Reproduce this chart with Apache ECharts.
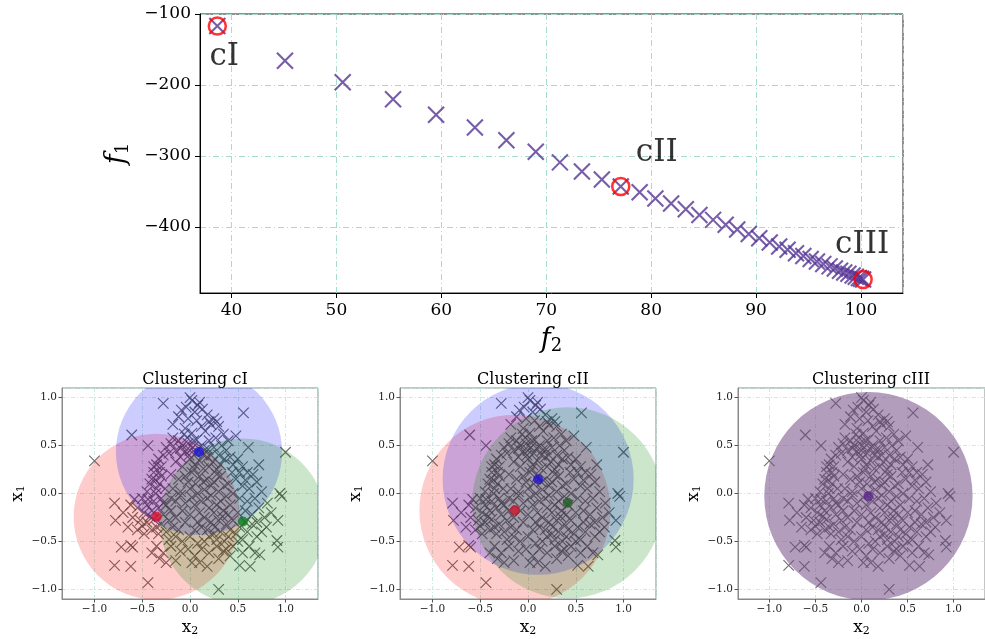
<!DOCTYPE html>
<html>
<head>
<meta charset="utf-8">
<script src="https://cdn.jsdelivr.net/npm/echarts@6/dist/echarts.min.js"></script>
<style>
  html, body { margin: 0; padding: 0; background: #ffffff; }
  #chart { width: 985px; height: 639px; }
</style>
</head>
<body>
<div id="chart"></div>
<script>
// ---- Pareto front (objective space) ----
const frontF2 = [38.65, 45.1, 50.6, 55.4, 59.5, 63.2, 66.2, 69.0, 71.3, 73.4,
                 75.3, 77.1, 78.9, 80.4, 81.9, 83.3, 84.6, 85.9, 87.1, 88.2,
                 89.3, 90.3, 91.3, 92.2, 93.0, 93.8, 94.5, 95.2, 95.8, 96.4,
                 97.0, 97.5, 98.0, 98.4, 98.8, 99.2, 99.5, 99.8, 100.0, 100.2];
const frontF1 = [-117, -166, -196, -220, -242, -260, -278, -294, -309, -322,
                 -333, -343, -351, -360, -367, -375, -383, -390, -397, -403.5,
                 -410, -416, -422, -427.5, -432, -437, -441, -445, -448.5, -452,
                 -455.5, -458.5, -461.5, -464, -466, -468.5, -470, -472, -473, -474];
const pickedIdx = [0, 11, 39];
const pickedNames = ['cI', 'cII', 'cIII'];

// ---- decision-space samples, each [x2, x1] ----
const samples = [
  [-1.00,0.34],[-0.61,0.61],[-0.44,0.50],[-0.28,0.94],[0.00,1.00],[-0.09,0.87],[0.10,0.95],[0.56,0.84],
  [1.00,0.43],[0.61,0.48],[-0.79,-0.10],[-0.78,-0.28],[-0.72,-0.56],[-0.62,-0.54],[-0.60,-0.56],
  [-0.79,-0.75],[-0.62,-0.76],[-0.44,-0.93],[0.30,-1.00],[0.18,-0.76],[0.52,-0.75],[0.63,-0.76],
  [0.73,-0.64],[0.91,-0.49],[0.92,-0.56],[0.94,0.00],[0.96,-0.03],[0.92,-0.28],[0.81,-0.10],
  [0.20,0.75],[0.28,0.75],
  [0.02,0.97],[0.08,0.92],[-0.04,0.90],[0.13,0.88],[0.05,0.85],[-0.12,0.80],[0.18,0.82],[-0.02,0.78],
  [0.07,0.76],[0.22,0.72],[-0.18,0.72],[0.25,0.78],[0.12,0.70],[0.30,0.70],[-0.05,0.68],[0.16,0.65],
  [0.35,0.62],[0.40,0.55],[0.48,0.60],[0.02,0.63],
  [-0.25,0.48],[-0.20,0.52],[-0.12,0.55],[-0.08,0.50],[-0.02,0.52],[0.03,0.48],[-0.15,0.45],[-0.05,0.44],
  [0.06,0.42],[0.12,0.50],[0.15,0.45],[0.20,0.55],[0.25,0.48],[0.30,0.40],[-0.10,0.38],[0.00,0.36],
  [0.10,0.34],[0.18,0.38],[0.24,0.33],[0.32,0.30],[-0.03,0.58],[0.07,0.56],[0.05,0.30],[-0.15,0.33],
  [0.38,0.45],[0.42,0.38],[0.45,0.30],[0.50,0.36],[0.55,0.28],[0.60,0.22],[0.28,0.25],[0.14,0.26],
  [-0.35,0.30],[-0.38,0.22],[-0.40,0.15],[-0.42,0.10],[-0.35,0.05],[-0.45,0.02],[-0.30,0.18],[-0.32,0.10],
  [-0.20,0.20],[-0.12,0.15],[-0.05,0.18],[0.02,0.22],[0.10,0.18],[0.18,0.15],[0.25,0.12],[0.32,0.18],
  [0.40,0.10],[0.48,0.15],[0.55,0.08],[0.62,0.05],[0.70,0.12],[0.75,0.02],[-0.18,0.05],[-0.10,0.02],
  [0.00,0.05],[0.08,0.00],[0.15,0.04],[0.22,-0.02],[0.30,0.02],[0.38,-0.03],[0.45,0.00],[0.52,-0.05],
  [0.60,-0.08],[0.68,-0.05],[-0.15,-0.08],[-0.05,-0.10],[0.05,-0.12],[0.12,-0.08],[0.20,-0.15],[0.28,-0.12],
  [0.35,-0.18],[0.42,-0.12],[0.50,-0.20],[0.58,-0.18],[0.65,-0.22],[0.72,-0.15],[0.78,-0.25],[0.85,-0.20],
  [-0.50,-0.05],[-0.45,-0.12],[-0.38,-0.08],[-0.30,-0.05],[-0.25,-0.12],[-0.55,-0.15],[-0.48,-0.20],
  [-0.40,-0.18],[-0.33,-0.15],[-0.28,-0.22],[-0.20,-0.18],[-0.60,-0.25],[-0.52,-0.28],[-0.45,-0.30],
  [-0.38,-0.27],[-0.30,-0.32],[-0.22,-0.28],[-0.65,-0.35],[-0.55,-0.38],[-0.48,-0.42],[-0.40,-0.38],
  [-0.33,-0.42],[-0.25,-0.40],[-0.70,-0.20],[-0.62,-0.12],[-0.15,-0.25],[-0.18,-0.35],
  [-0.15,-0.45],[-0.08,-0.50],[0.00,-0.45],[0.08,-0.52],[-0.20,-0.55],[-0.10,-0.60],[-0.02,-0.58],
  [0.05,-0.65],[-0.28,-0.62],[-0.35,-0.55],[-0.32,-0.68],[-0.25,-0.72],[-0.40,-0.62],[-0.15,-0.70],
  [0.12,-0.58],[0.20,-0.62],[0.28,-0.55],[0.35,-0.60],[0.30,-0.68],[0.42,-0.65],[0.10,-0.72],
  [0.15,-0.25],[0.22,-0.30],[0.30,-0.28],[0.38,-0.32],[0.45,-0.28],[0.52,-0.35],[0.18,-0.38],[0.25,-0.42],
  [0.32,-0.40],[0.40,-0.45],[0.48,-0.42],[0.55,-0.48],[0.12,-0.35],[0.28,-0.48],[0.36,-0.50],[0.60,-0.40],
  [0.65,-0.32],[0.70,-0.45],[0.62,-0.55],[0.75,-0.40],[0.80,-0.35],[0.45,-0.55],[0.68,-0.62],[0.55,-0.62],
  [-0.22,0.42],[-0.18,0.58],[-0.10,0.47],[-0.06,0.62],[0.00,0.45],[0.04,0.55],[0.09,0.47],[-0.01,0.40],
  [0.14,0.40],[0.19,0.46],[0.22,0.40],[-0.28,0.40],[-0.30,0.28],[0.27,0.58],[0.33,0.50],[0.36,0.36],
  [-0.08,0.28],[0.04,0.26],[0.20,0.28],[-0.02,0.12],[0.06,0.10],[0.14,0.12],[0.22,0.08],[0.28,0.20],
  [0.36,0.08],[-0.10,-0.02],[0.02,-0.04],[0.10,-0.20],[0.18,-0.05],[0.25,-0.20],[0.32,-0.08],[0.40,-0.22],
  [0.00,-0.22],[-0.08,-0.18],[0.08,-0.30],[0.44,0.22],[0.52,0.22],[0.58,0.14],[0.66,0.20],[0.72,0.30],
  [0.70,-0.30],[-0.42,-0.24],[-0.35,-0.35],[-0.28,-0.10],[-0.36,0.00],[-0.44,-0.06],[-0.50,-0.34],
  [-0.58,-0.06],[-0.26,0.05],[-0.20,-0.05],[0.20,-0.45],[0.34,-0.24],[0.42,-0.38],[0.50,-0.50],
  [0.58,-0.30],[0.26,-0.35],[0.15,-0.50],[0.05,-0.38],[0.38,-0.58],[-0.05,-0.30],[-0.12,-0.38],
  [0.02,-0.72],[-0.22,-0.48],[-0.33,0.36],[-0.38,0.28],[-0.36,0.14],[-0.32,0.22]
];

// ---- cluster centres [x2, x1] and radii per clustering ----
const centersI   = [[-0.348, -0.243], [0.094, 0.434], [0.554, -0.292]];
const radiiI     = [0.87, 0.87, 0.87];
const centersII  = [[-0.137, -0.174], [0.106, 0.149], [0.416, -0.097]];
const radiiII    = [1.0, 1.0, 1.0];
const centersIII = [[0.075, -0.028]];
const radiiIII   = [1.13];
const panelTitles = ['Clustering cI', 'Clustering cII', 'Clustering cIII'];

// ---- styling ----
const SERIF = 'DejaVu Serif';
const X_SYMBOL = 'path://M0,0L10,10M10,0L0,10';
const GRID_LINE = { color: '#a6dccd', type: [6, 3, 1, 3], width: 1 };
const GRID_LINE_SMALL = { color: '#bfe3da', type: [4, 2, 1, 2], width: 0.8 };
const minus = v => (v < 0 ? '\u2212' : '') + Math.abs(v);
const minus1 = v => (v < 0 ? '\u2212' : '') + Math.abs(v).toFixed(1);

const panels = [
  { left: 62,  centers: centersI,   radii: radiiI,
    fills: ['rgba(255,0,0,0.2)', 'rgba(0,0,255,0.2)', 'rgba(0,128,0,0.2)'],
    dots:  ['#d8102c', '#1c1cd8', '#0c7a1c'] },
  { left: 400, centers: centersII,  radii: radiiII,
    fills: ['rgba(255,0,0,0.2)', 'rgba(0,0,255,0.2)', 'rgba(0,128,0,0.2)'],
    dots:  ['#cc1028', '#2010d0', '#1f5e22'] },
  { left: 738, centers: centersIII, radii: radiiIII,
    fills: ['rgba(112,74,132,0.54)'],
    dots:  ['#5a2888'] }
];

const grids = [{ left: 200, top: 14, width: 703, height: 279, show: true,
                 borderColor: '#222', borderWidth: 1, backgroundColor: 'transparent' }];
const xAxes = [{
  gridIndex: 0, type: 'value', min: 37, max: 104,
  axisLine: { show: true, onZero: false, lineStyle: { color: '#000', width: 1 } },
  axisTick: { show: true, length: 5, lineStyle: { color: '#000' } },
  axisLabel: { fontFamily: SERIF, fontSize: 17, color: '#000', margin: 9,
               showMinLabel: false, showMaxLabel: false, formatter: minus },
  splitLine: { show: true, lineStyle: GRID_LINE },
  name: '{i|f}{s|2}', nameLocation: 'middle', nameGap: 32,
  nameTextStyle: { rich: {
    i: { fontFamily: SERIF, fontStyle: 'italic', fontSize: 27, color: '#000' },
    s: { fontFamily: SERIF, fontSize: 18, color: '#000', padding: [12, 0, 0, 0] } } }
}];
const yAxes = [{
  gridIndex: 0, type: 'value', min: -493, max: -100,
  axisLine: { show: true, onZero: false, lineStyle: { color: '#000', width: 1 } },
  axisTick: { show: true, length: 5, lineStyle: { color: '#000' } },
  axisLabel: { fontFamily: SERIF, fontSize: 17, color: '#000', margin: 9,
               showMinLabel: false, formatter: minus },
  splitLine: { show: true, lineStyle: GRID_LINE },
  name: '{i|f}{s|1}', nameLocation: 'middle', nameGap: 68, nameRotate: 90,
  nameTextStyle: { rich: {
    i: { fontFamily: SERIF, fontStyle: 'italic', fontSize: 27, color: '#000' },
    s: { fontFamily: SERIF, fontSize: 18, color: '#000', padding: [12, 0, 0, 0] } } }
}];

panels.forEach((p, k) => {
  const gi = k + 1;
  grids.push({ left: p.left, top: 388, width: 256, height: 211, show: true,
               borderColor: '#8a8a8a', borderWidth: 1 });
  const common = {
    gridIndex: gi, type: 'value',
    axisLine: { show: true, onZero: false, lineStyle: { color: '#8a8a8a' } },
    axisTick: { show: true, length: 3.5, lineStyle: { color: '#555' } },
    axisLabel: { fontFamily: SERIF, fontSize: 10.5, color: '#222', margin: 5,
                 showMinLabel: false, showMaxLabel: false, formatter: minus1 },
    splitLine: { show: true, lineStyle: GRID_LINE_SMALL }
  };
  xAxes.push(Object.assign({}, common, {
    min: -1.34, max: 1.34,
    name: '{i|x}{s|2}', nameLocation: 'middle', nameGap: 19,
    nameTextStyle: { rich: {
      i: { fontFamily: SERIF, fontSize: 17, color: '#000' },
      s: { fontFamily: SERIF, fontSize: 11, color: '#000', padding: [8, 0, 0, 0] } } }
  }));
  yAxes.push(Object.assign({}, common, {
    min: -1.1, max: 1.1,
    name: '{i|x}{s|1}', nameLocation: 'middle', nameGap: 35, nameRotate: 90,
    nameTextStyle: { rich: {
      i: { fontFamily: SERIF, fontSize: 17, color: '#000' },
      s: { fontFamily: SERIF, fontSize: 11, color: '#000', padding: [8, 0, 0, 0] } } }
  }));
});

const series = [];

// Pareto front markers
series.push({
  type: 'scatter', xAxisIndex: 0, yAxisIndex: 0, z: 3,
  symbol: X_SYMBOL, symbolSize: 16,
  itemStyle: { color: 'rgba(0,0,0,0)', borderColor: '#553593', borderWidth: 2.1 },
  data: frontF2.map((v, i) => [v, frontF1[i]])
});
// highlighted solutions with their labels
const pickedLabelOffset = [[7, 31], [36, -34], [-1, -35]];
series.push({
  type: 'scatter', xAxisIndex: 0, yAxisIndex: 0, z: 4,
  symbol: 'circle', symbolSize: 17,
  itemStyle: { color: 'rgba(0,0,0,0)', borderColor: '#ff0000', borderWidth: 2.5 },
  data: pickedIdx.map((idx, j) => ({
    name: pickedNames[j], value: [frontF2[idx], frontF1[idx]],
    label: { show: true, formatter: '{b}', position: 'inside', offset: pickedLabelOffset[j],
             fontFamily: SERIF, fontSize: 31, color: '#000', textBorderWidth: 0 }
  }))
});

panels.forEach((p, k) => {
  const gi = k + 1;
  series.push({
    type: 'scatter', xAxisIndex: gi, yAxisIndex: gi, z: 2,
    symbol: X_SYMBOL, symbolSize: 10.5,
    itemStyle: { color: 'rgba(0,0,0,0)', borderColor: '#4c4c4c', borderWidth: 1.15 },
    data: samples
  });
  series.push({
    type: 'custom', xAxisIndex: gi, yAxisIndex: gi, z: 3, clip: true,
    encode: { x: 0, y: 1 },
    renderItem: (params, api) => {
      const c = api.coord([api.value(0), api.value(1)]);
      const r = api.size([api.value(2), 0])[0];
      return { type: 'circle', shape: { cx: c[0], cy: c[1], r: r },
               style: { fill: p.fills[params.dataIndex] } };
    },
    data: p.centers.map((c, i) => [c[0], c[1], p.radii[i]])
  });
  series.push({
    type: 'scatter', xAxisIndex: gi, yAxisIndex: gi, z: 4,
    symbol: 'circle', symbolSize: 10,
    data: p.centers.map((c, i) => ({ value: c, itemStyle: { color: p.dots[i] } }))
  });
});

const titles = panels.map((p, k) => ({
  text: panelTitles[k], left: p.left + 128, top: 367, textAlign: 'center',
  textStyle: { fontFamily: SERIF, fontSize: 16, fontWeight: 'normal', color: '#000' }
}));

const chart = echarts.init(document.getElementById('chart'), null, { renderer: 'canvas' });
chart.setOption({
  animation: false,
  backgroundColor: '#ffffff',
  title: titles,
  grid: grids,
  xAxis: xAxes,
  yAxis: yAxes,
  series: series
});
</script>
</body>
</html>
